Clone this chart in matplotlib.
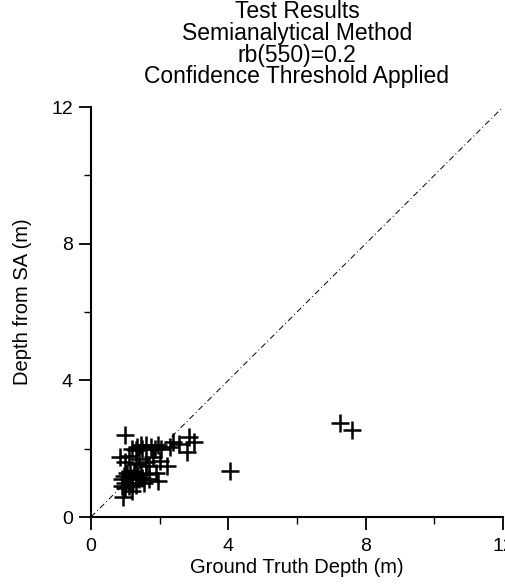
import matplotlib
matplotlib.use("Agg")
import matplotlib.pyplot as plt
from matplotlib.ticker import MultipleLocator

plt.rcParams['font.family'] = ['Liberation Sans', 'DejaVu Sans']

# Data (ground truth depth, SA depth)
truth = [1.2, 1.35, 1.5, 1.6, 1.75, 1.85, 1.95, 2.05, 1.3, 1.45,
         1.0, 2.4, 2.85, 3.0, 2.8, 2.3, 2.55,
         0.85, 1.0, 1.1, 1.4, 1.6, 1.8, 1.7, 2.2, 2.0, 1.3,
         1.9, 1.95, 0.94, 1.2, 0.9, 1.0, 1.1, 1.2, 1.3, 1.4, 0.95, 1.05, 1.15,
         1.25, 1.35, 1.5, 1.6, 1.0, 1.1, 1.2, 1.3, 1.45, 0.9, 1.55, 1.7,
         4.05, 7.25, 7.6]
sa = [2.0, 2.05, 2.0, 2.1, 2.05, 2.0, 2.1, 2.0, 1.95, 2.1,
      2.4, 2.2, 2.35, 2.2, 1.9, 2.05, 2.15,
      1.75, 1.6, 1.8, 1.7, 1.6, 1.75, 1.5, 1.5, 1.65, 1.55,
      1.3, 1.05, 0.6, 0.75, 0.9, 1.0, 1.1, 1.0, 0.95, 1.1, 1.2, 1.3, 1.25,
      1.35, 1.2, 1.15, 1.25, 0.85, 0.9, 1.15, 1.25, 1.3, 1.1, 1.0, 1.1,
      1.35, 2.75, 2.55]
line_ends = [0, 12]
ticks = [0, 4, 8, 12]
title_lines = ["Test Results", "Semianalytical Method", "rb(550)=0.2",
               "Confidence Threshold Applied"]

fig = plt.figure(figsize=(5.06, 5.86), dpi=100)
ax = fig.add_axes([91/506, 69/586, 412/506, 410/586])

ax.plot(line_ends, line_ends, color='black', linestyle='-.', linewidth=0.7, dashes=(6, 3, 1, 3))
ax.plot(truth, sa, linestyle='none', marker='+', color='black', markersize=13,
        markeredgewidth=1.8, clip_on=False)

ax.set_xlim(0, 12)
ax.set_ylim(0, 12)
ax.set_xticks(ticks)
ax.set_yticks(ticks)
ax.xaxis.set_minor_locator(MultipleLocator(2))
ax.yaxis.set_minor_locator(MultipleLocator(2))
ax.tick_params(which='major', direction='out', length=9, width=1.3, labelsize=14, pad=4)
ax.tick_params(axis='x', which='major', pad=6)
ax.tick_params(which='minor', direction='out', length=5, width=1.0)
for s in ['top', 'right']:
    ax.spines[s].set_visible(False)
for s in ['left', 'bottom']:
    ax.spines[s].set_linewidth(1.5)

ax.set_xlabel("Ground Truth Depth (m)", fontsize=14.5, labelpad=2)
ax.set_ylabel("Depth from SA (m)", fontsize=14.5)
ax.yaxis.set_label_coords(-0.143, 0.524)
ax.set_title("\n".join(title_lines), fontsize=16.5, linespacing=0.93, pad=17)

fig.savefig("out.png", dpi=100)
